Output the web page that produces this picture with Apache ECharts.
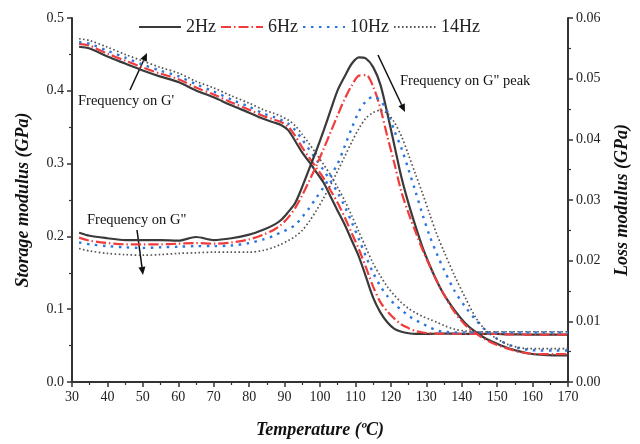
<!DOCTYPE html>
<html>
<head>
<meta charset="utf-8">
<script src="https://cdn.jsdelivr.net/npm/echarts@6/dist/echarts.min.js"></script>
<style>
html, body { margin: 0; padding: 0; background: #fff; }
#chart { width: 640px; height: 444px; }
</style>
</head>
<body>
<div id="chart"></div>
<script>
// temperature (ºC), shared by all curves
var temperature = [32, 35, 40, 45, 50, 55, 60, 65, 70, 75, 80, 84, 87, 89, 91, 93, 95, 97, 99, 101,
  103, 105, 107, 109, 111, 113, 115, 117, 119, 121, 123, 125, 127, 129, 131, 133, 135, 138, 141, 144,
  147, 150, 153, 156, 159, 162, 166, 170];

// storage modulus G' (GPa), left axis
var storage2 = [.4605, .458, .447, .4375, .428, .4195, .412, .4005, .391, .380, .370, .3615, .3565, .353, .346, .331, .315, .302, .288, .274,
  .2545, .235, .216, .194, .172, .144, .116, .096, .082, .073, .069, .067, .066, .066, .066, .0665, .0665, .0665, .066, .066,
  .066, .066, .0655, .0655, .065, .065, .065, .065];
var storage6 = [.4645, .462, .451, .4415, .432, .4235, .416, .4045, .395, .384, .374, .3655, .3605, .357, .351, .338, .322, .308, .294, .280,
  .263, .246, .226, .204, .182, .157, .131, .110, .097, .087, .079, .074, .070, .068, .067, .0665, .0665, .0665, .066, .066,
  .066, .066, .0655, .0655, .065, .065, .065, .065];
var storage10 = [.467, .4645, .455, .4455, .436, .4275, .420, .409, .399, .388, .378, .369, .364, .360, .355, .346, .333, .319, .305, .291,
  .276, .260, .241, .219, .196, .172, .150, .132, .118, .107, .099, .091, .085, .080, .075, .071, .069, .068, .068, .068,
  .068, .068, .068, .068, .068, .068, .068, .068];
var storage14 = [.4715, .469, .460, .450, .441, .432, .4245, .413, .404, .393, .383, .374, .369, .365, .360, .352, .340, .327, .313, .299,
  .284, .267, .249, .228, .206, .184, .163, .146, .131, .119, .109, .101, .095, .090, .086, .082, .0775, .0725, .070, .069,
  .069, .069, .069, .069, .069, .069, .069, .069];

// loss modulus G'' (GPa), right axis
var loss2 = [.0246, .0241, .0237, .0234, .0234, .0234, .0233, .0239, .0234, .0237, .0243, .0251, .0259, .0267, .0280, .0295, .0322, .0352, .0382, .0414,
  .0448, .0481, .0504, .0525, .0535, .0533, .0519, .0491, .0443, .0390, .0337, .0294, .0256, .0221, .0192, .0166, .0144, .0118, .0097, .0082,
  .0071, .0063, .0056, .0051, .0047, .0045, .0044, .0044];
var loss6 = [.0238, .0233, .0229, .0227, .0227, .0227, .0228, .0229, .0228, .0230, .0235, .0243, .0251, .0259, .0271, .0287, .0308, .0332, .0357, .0384,
  .0412, .0440, .0467, .0489, .0505, .0506, .0487, .0452, .0405, .0360, .0313, .0278, .0247, .0217, .0191, .0166, .0144, .0115, .0094, .0080,
  .0069, .0061, .0055, .0050, .0047, .0046, .0046, .0046];
var loss10 = [.0230, .0227, .0224, .0222, .0221, .0222, .0223, .0224, .0224, .0225, .0229, .0235, .0241, .0247, .0252, .0259, .0272, .0287, .0304, .0321,
  .0340, .0360, .0389, .0419, .0446, .0463, .0470, .0464, .0446, .0414, .0385, .0350, .0313, .0275, .0240, .0211, .0185, .0150, .0124, .0102,
  .0084, .0071, .0062, .0056, .0053, .0052, .0052, .0052];
var loss14 = [.0220, .0216, .0212, .0210, .0209, .0210, .0212, .0213, .0214, .0214, .0214, .0217, .0222, .0227, .0233, .0240, .0250, .0265, .0283, .0303,
  .0325, .0348, .0372, .0396, .0418, .0435, .0444, .0448, .0443, .0428, .0405, .0374, .0342, .0310, .0276, .0243, .0215, .0175, .0139, .0106,
  .0084, .0071, .0062, .0057, .0055, .0055, .0055, .0055];

var freqNames = ['2Hz', '6Hz', '10Hz', '14Hz'];

var serif = 'Liberation Serif';

var lineStyles = [
  {color: '#3a3a3a', width: 2.2, type: 'solid'},
  {color: '#f03c3c', width: 2.2, type: [10, 3, 1.5, 3]},
  {color: '#2a76e0', width: 2.4, type: [2.5, 5.5]},
  {color: '#555555', width: 1.7, type: [1.6, 2.4]}
];

function pairs(values) {
  return temperature.map(function (t, i) { return [t, values[i]]; });
}

function makeSeries(idx, values, axisIdx) {
  return {
    name: freqNames[idx],
    type: 'line',
    yAxisIndex: axisIdx,
    smooth: 0.3,
    showSymbol: false,
    symbol: 'none',
    lineStyle: lineStyles[idx],
    itemStyle: {color: lineStyles[idx].color},
    data: pairs(values)
  };
}

// arrow: line + filled head
function arrow(x1, y1, x2, y2) {
  var dx = x2 - x1, dy = y2 - y1;
  var len = Math.sqrt(dx * dx + dy * dy);
  var ux = dx / len, uy = dy / len, hl = 8, hw = 3.5;
  var bx = x2 - ux * hl, by = y2 - uy * hl;
  return [
    {type: 'line', shape: {x1: x1, y1: y1, x2: bx, y2: by}, style: {stroke: '#111', lineWidth: 1.5}},
    {type: 'polygon', shape: {points: [[x2, y2], [bx - uy * hw, by + ux * hw], [bx + uy * hw, by - ux * hw]]}, style: {fill: '#111'}}
  ];
}

function note(x, y, text) {
  return {
    type: 'text', x: x, y: y,
    style: {text: text, fontSize: 14.5, fontFamily: serif, fill: '#111', textVerticalAlign: 'middle'}
  };
}

var chart = echarts.init(document.getElementById('chart'));

var axisLabel = {fontFamily: serif, fontSize: 14, color: '#222'};
var axisLine = {show: true, lineStyle: {color: '#333', width: 2}};
var nameStyle = {fontFamily: serif, fontSize: 18, fontWeight: 'bold', fontStyle: 'italic', color: '#111'};

var option = {
  animation: false,
  backgroundColor: '#fff',
  grid: {left: 72, right: 72, top: 18, bottom: 58},
  legend: {
    data: freqNames,
    left: 138,
    top: 18,
    padding: 0,
    itemWidth: 42,
    itemHeight: 14,
    itemGap: 4,
    itemStyle: {opacity: 0},
    textStyle: {fontFamily: serif, fontSize: 18, color: '#222'}
  },
  xAxis: {
    type: 'value',
    min: 30, max: 170, interval: 10,
    name: 'Temperature (ºC)',
    nameLocation: 'middle',
    nameGap: 39,
    nameTextStyle: nameStyle,
    axisLine: Object.assign({onZero: false}, axisLine),
    axisTick: {show: true, length: 5, lineStyle: {color: '#333', width: 1.5}},
    minorTick: {show: true, splitNumber: 2, length: 3, lineStyle: {color: '#333', width: 1.2}},
    axisLabel: axisLabel,
    splitLine: {show: false}
  },
  yAxis: [
    {
      type: 'value',
      min: 0, max: 0.5, interval: 0.1,
      name: 'Storage modulus (GPa)',
      nameLocation: 'middle',
      nameGap: 40,
      nameTextStyle: nameStyle,
      axisLine: axisLine,
      axisTick: {show: true, length: 5, lineStyle: {color: '#333', width: 1.5}},
      minorTick: {show: true, splitNumber: 2, length: 3, lineStyle: {color: '#333', width: 1.2}},
      axisLabel: Object.assign({formatter: function (v) { return v.toFixed(1); }}, axisLabel),
      splitLine: {show: false}
    },
    {
      type: 'value',
      position: 'right',
      min: 0, max: 0.06, interval: 0.01,
      name: 'Loss modulus (GPa)',
      nameLocation: 'middle',
      nameGap: 45,
      nameTextStyle: nameStyle,
      axisLine: axisLine,
      axisTick: {show: true, length: 5, lineStyle: {color: '#333', width: 1.5}},
      minorTick: {show: true, splitNumber: 2, length: 3, lineStyle: {color: '#333', width: 1.2}},
      axisLabel: Object.assign({formatter: function (v) { return v.toFixed(2); }}, axisLabel),
      splitLine: {show: false}
    }
  ],
  series: [
    makeSeries(0, storage2, 0),
    makeSeries(1, storage6, 0),
    makeSeries(2, storage10, 0),
    makeSeries(3, storage14, 0),
    makeSeries(0, loss2, 1),
    makeSeries(1, loss6, 1),
    makeSeries(2, loss10, 1),
    makeSeries(3, loss14, 1)
  ],
  graphic: [
    note(78, 101, "Frequency on G'"),
    note(87, 220, 'Frequency on G"'),
    note(400, 81, 'Frequency on G" peak')
  ].concat(arrow(130, 90, 147, 53), arrow(137, 230, 143, 275), arrow(378, 55, 405, 112))
};

chart.setOption(option);
</script>
</body>
</html>
